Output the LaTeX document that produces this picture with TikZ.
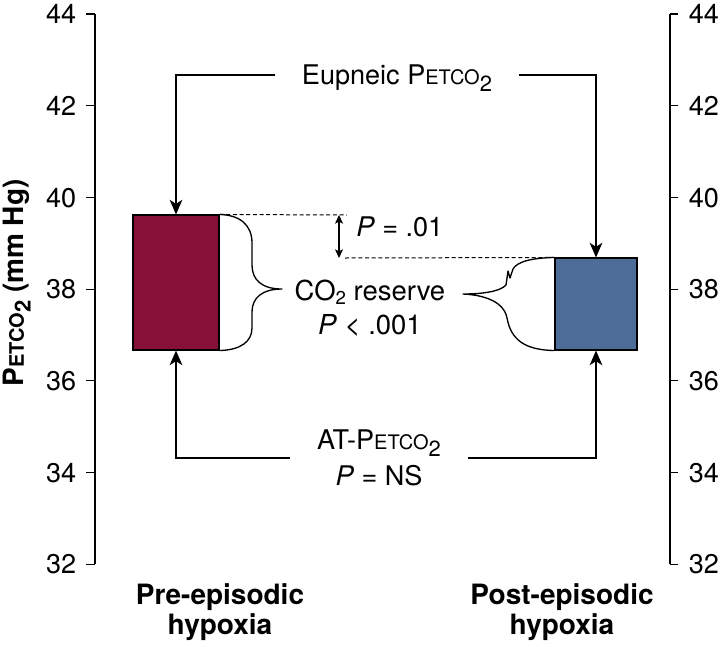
\documentclass[tikz,border=0pt]{standalone}
\usepackage{fontspec}
\setmainfont{TeX Gyre Heros}
\usetikzlibrary{arrows.meta}
\definecolor{barred}{HTML}{871038}
\definecolor{barblue}{HTML}{4E6C98}
\newcommand{\petco}{P{\fontsize{15}{15}\selectfont ETCO\raisebox{-0.34em}{\fontsize{16.5}{16.5}\selectfont 2}}}
\newcommand{\cotwo}{CO\raisebox{-2.8pt}{\fontsize{14}{14}\selectfont 2}}
\tikzset{
  lbl/.style={font=\fontsize{20.3}{25.5}\selectfont, inner sep=0pt, align=center},
  ticklbl/.style={font=\fontsize{20.3}{24}\selectfont, inner sep=0pt, text height=14.4pt, text depth=0pt},
  catlbl/.style={font=\fontsize{21}{22.5}\selectfont\bfseries, inner sep=0pt, align=center},
  bar/.style={draw=black, line width=0.8pt, inner sep=0pt},
  arr/.style={line width=1pt, -{Stealth[length=11pt,width=9.5pt,inset=3pt]}},
  dbl/.style={line width=0.9pt, {Stealth[length=6.5pt,width=6pt,inset=1.5pt]}-{Stealth[length=6.5pt,width=6pt,inset=1.5pt]}},
  dsh/.style={line width=0.75pt, dash pattern=on 3pt off 2pt},
  axis/.style={line width=0.9pt},
  brace/.style={line width=1pt, line join=round}
}
\begin{document}
\begin{tikzpicture}[x=0.75pt,y=-0.75pt]
\useasboundingbox (0,0) rectangle (720,646);
% axes
\draw[axis] (95,14) -- (95,564.2);
\draw[axis] (670,14) -- (670,564.2);
\foreach \v/\y in {44/14,42/105.7,40/197.4,38/289.1,36/380.8,34/472.5,32/564.2}{
  \draw[axis] (86,\y) -- (95,\y);
  \draw[axis] (670,\y) -- (678,\y);
  \node[ticklbl, anchor=east] (l\v) at (76.5,\y) {\v};
  \node[ticklbl, anchor=west] (r\v) at (688.5,\y) {\v};
}
\node[font=\fontsize{21}{21}\selectfont\bfseries, inner sep=0pt, rotate=90] (ylab) at (17,283) {\petco\ (mm Hg)};
% bars
\node[bar, fill=barred, minimum width=64.5pt, minimum height=101.25pt] (lbar) at (176,282.5) {};
\node[bar, fill=barblue, minimum width=61.5pt, minimum height=69pt] (rbar) at (596,304) {};
% eupneic
\node[lbl, text height=14.4pt, text depth=0pt, inner xsep=20pt] (eup) at (397,75) {Eupneic \petco};
\draw[arr] (eup.west) -| (lbar.north);
\draw[arr] (eup.east) -| (rbar.north);
% AT
\node[lbl, inner xsep=20pt, font=\fontsize{20.3}{27}\selectfont] (at) at (379,458) {AT-\petco\\\textit{P} = NS};
\draw[arr] (at.west) -| (lbar.south);
\draw[arr] (at.east) -| (rbar.south);
% dashed and P=.01
\coordinate (d1) at (346.7,215);
\coordinate (d2) at (345,258);
\draw[dsh] (lbar.north east) -- (d1);
\draw[dsh] (d2) -- (rbar.north west);
\coordinate (a1) at (339,215);
\coordinate (a2) at (339,258);
\draw[dbl] (a1) -- (a2);
\node[lbl, anchor=base west] (p01) at (356,236) {\textit{P} = .01};
% CO2 reserve
\node[lbl, font=\fontsize{20.6}{25.5}\selectfont] (res) at (370,308) {\cotwo{} reserve\\\textit{P} < .001};
% braces
\draw[brace] (lbar.north east) .. controls (240,215) and (252,225) .. (252,243) -- (252,265)
  .. controls (252,280) and (262,289) .. (282,289)
  .. controls (262,289) and (252,298) .. (252,312) -- (252,328)
  .. controls (252,342) and (240,350) .. (lbar.south east);
\draw[brace] (rbar.north west) .. controls (530,258) and (517,262) .. (513,269) -- (510,278) -- (508,271) -- (506,285)
  .. controls (500,292) and (480,294) .. (463,294)
  .. controls (485,295) and (504,302) .. (507,318)
  .. controls (511,340) and (525,350) .. (rbar.south west);
% categories
\node[catlbl] (pre) at (220,612) {Pre-episodic\\hypoxia};
\node[catlbl] (post) at (562,612) {Post-episodic\\hypoxia};
\end{tikzpicture}
\end{document}
